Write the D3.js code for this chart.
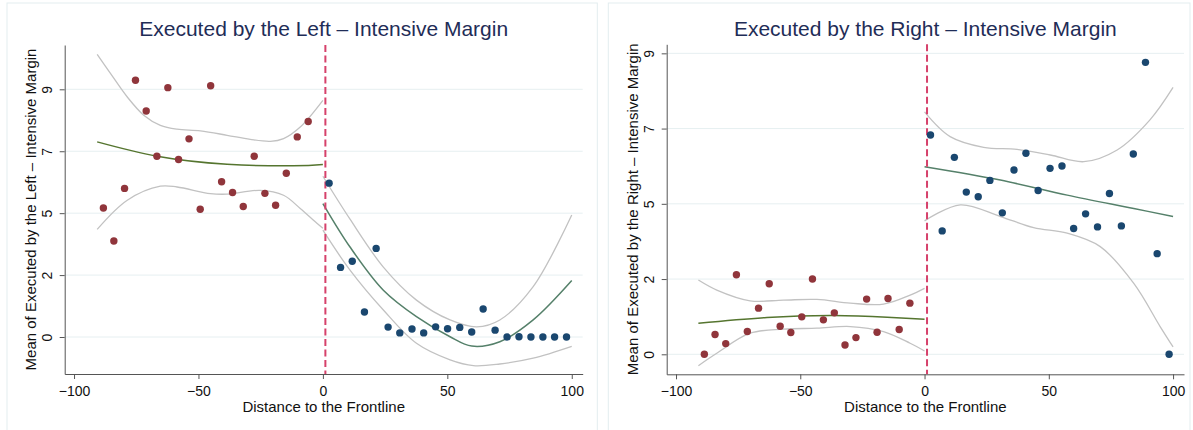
<!DOCTYPE html>
<html>
<head>
<meta charset="utf-8">
<script src="https://cdn.jsdelivr.net/npm/d3@7"></script>
<style>
  body { margin: 0; background: #fff; }
  svg { display: block; font-family: "Liberation Sans", Arial, sans-serif; }
</style>
</head>
<body>
<svg id="chart" width="1193" height="430"></svg>
<script>
// ---- Executed by the Left: binned means ----
const leftBelowX = [-88.2, -84.0, -79.7, -75.3, -71.0, -66.7, -62.3, -58.0, -53.8, -49.3,
                    -45.1, -40.7, -36.3, -32.0, -27.6, -23.3, -19.0, -14.7, -10.3, -5.9];
const leftBelowY = [4.69, 3.49, 5.40, 9.33, 8.21, 6.57, 9.06, 6.45, 7.20, 4.64,
                    9.13, 5.64, 5.25, 4.74, 6.57, 5.22, 4.79, 5.95, 7.27, 7.83];
const leftAboveX = [2.5, 7.1, 11.8, 16.7, 21.4, 26.2, 30.9, 35.8, 40.5, 45.3, 50.1,
                    55.0, 59.8, 64.4, 69.2, 74.0, 78.8, 83.6, 88.4, 93.1, 97.9];
const leftAboveY = [5.59, 2.53, 2.75, 0.91, 3.22, 0.36, 0.15, 0.29, 0.15, 0.37, 0.30,
                    0.35, 0.18, 1.02, 0.25, 0.00, 0.01, 0.00, 0.00, 0.00, 0.00];

// fitted curves and confidence bands as [x, y]
const leftBelowFit = [[-90.7, 7.09], [-66.6, 6.57], [-38.5, 6.28], [-12, 6.22], [0, 6.27]];
const leftBelowHi = [[-90.7, 10.27], [-85.3, 9.57], [-78.6, 8.72], [-72.0, 8.06], [-65.3, 7.69],
                     [-58.6, 7.55], [-49.2, 7.49], [-38.5, 7.33], [-29.2, 7.18], [-21.1, 7.11],
                     [-15.8, 7.21], [-9.1, 7.63], [0, 8.60]];
const leftBelowLo = [[-90.7, 3.91], [-78.6, 4.97], [-65.3, 5.48], [-58.6, 5.45], [-45.2, 5.21],
                     [-38.5, 5.19], [-25.2, 5.33], [-15.8, 5.15], [-9.1, 4.67], [-2.4, 4.13],
                     [0, 3.95]];
const leftAboveFit = [[0, 4.85], [10.9, 3.27], [24.3, 1.70], [37.6, 0.74], [51.1, 0.01],
                      [59.8, -0.33], [71.1, -0.17], [84.5, 0.62], [100, 2.05]];
const leftAboveHi = [[0, 5.84], [10.9, 4.28], [24.3, 2.54], [37.6, 1.34], [51.1, 0.62],
                     [61.8, 0.37], [71.1, 0.62], [84.5, 1.83], [100, 4.43]];
const leftAboveLo = [[0, 3.88], [10.9, 2.43], [24.3, 0.98], [37.6, -0.23], [51.1, -0.83],
                     [60.5, -1.04], [71.1, -0.98], [84.5, -0.77], [100, -0.34]];

// ---- Executed by the Right: binned means ----
const rightBelowX = [-88.6, -84.3, -80.0, -75.7, -71.3, -66.8, -62.5, -58.1, -53.8, -49.4,
                     -45.1, -40.7, -36.3, -32.0, -27.6, -23.3, -19.1, -14.7, -10.2, -5.9];
const rightBelowY = [0.00, 0.59, 0.32, 2.38, 0.68, 1.38, 2.11, 0.84, 0.65, 1.12,
                     2.25, 1.03, 1.24, 0.28, 0.50, 1.65, 0.66, 1.67, 0.74, 1.53];
const rightAboveX = [2.4, 7.1, 12.0, 16.8, 21.6, 26.3, 31.3, 36.0, 40.8, 45.7, 50.5,
                     55.3, 60.0, 64.8, 69.6, 74.4, 79.2, 84.0, 88.9, 93.6, 98.4];
const rightAboveY = [6.56, 3.69, 5.89, 4.85, 4.71, 5.20, 4.23, 5.51, 6.01, 4.90, 5.56,
                     5.63, 3.76, 4.20, 3.81, 4.81, 3.84, 5.99, 8.73, 3.01, 0.00];

const rightBelowFit = [[-91, 0.93], [-63.4, 1.10], [-36.6, 1.16], [-15, 1.11], [0, 1.05]];
const rightBelowHi = [[-91, 2.22], [-83.6, 1.92], [-70.2, 1.60], [-56.8, 1.62], [-43.3, 1.64],
                      [-29.9, 1.53], [-16.5, 1.50], [-5.8, 1.77], [0, 1.97]];
const rightBelowLo = [[-91, -0.34], [-83.6, 0.03], [-70.2, 0.63], [-56.8, 0.75], [-43.3, 0.78],
                      [-29.9, 0.83], [-16.5, 0.68], [-5.8, 0.33], [0, 0.10]];
const rightAboveFit = [[0, 5.61], [30.5, 5.21], [57.4, 4.76], [84.2, 4.36], [100, 4.12]];
const rightAboveHi = [[0, 7.25], [10.3, 6.51], [23.8, 6.19], [37.2, 6.13], [50.6, 5.96],
                      [64.1, 5.76], [77.5, 6.11], [90.7, 7.01], [100, 7.98]];
const rightAboveLo = [[0, 3.99], [14.4, 4.47], [30.5, 4.12], [43.9, 3.79], [57.4, 3.62],
                      [70.7, 3.22], [84.2, 2.12], [94.8, 0.83], [100, 0.22]];

// axis ticks: labels are rounded values of 0, 2.25, 4.5, 6.75, 9
const xTicks = [-100, -50, 0, 100, 50];
const yTicks = [0, 2.25, 4.5, 6.75, 9];
const cutoff = 1;

const svg = d3.select("#chart");

function drawPanel(p) {
  const g = svg.append("g");
  g.append("rect")
    .attr("x", p.frame[0]).attr("y", 3)
    .attr("width", p.frame[1] - p.frame[0]).attr("height", 450)
    .attr("fill", "none").attr("stroke", "#e3edef").attr("stroke-width", 1);

  const x = d3.scaleLinear().domain([-103.75, 104.4]).range(p.xr);
  const y = d3.scaleLinear().domain(p.yd).range([p.yr[1], p.yr[0]]);

  // grid
  g.append("g").selectAll("line").data(yTicks).join("line")
    .attr("x1", p.xr[0]).attr("x2", p.xr[1])
    .attr("y1", d => y(d)).attr("y2", d => y(d))
    .attr("stroke", "#e6eff1").attr("stroke-width", 1);

  const band = d3.line().x(d => x(d[0])).y(d => y(d[1])).curve(d3.curveCatmullRom.alpha(0.5));
  const fit = d3.line().x(d => x(d[0])).y(d => y(d[1])).curve(d3.curveNatural);

  [p.belowHi, p.belowLo, p.aboveHi, p.aboveLo].forEach(c => {
    g.append("path").attr("d", band(c)).attr("fill", "none")
      .attr("stroke", "#c2c2c2").attr("stroke-width", 1.3);
  });
  g.append("path").attr("d", fit(p.belowFit)).attr("fill", "none")
    .attr("stroke", "#55752f").attr("stroke-width", 1.5);
  g.append("path").attr("d", band(p.aboveFit)).attr("fill", "none")
    .attr("stroke", "#55806a").attr("stroke-width", 1.5);

  // cutoff line
  g.append("line")
    .attr("x1", x(cutoff)).attr("x2", x(cutoff))
    .attr("y1", p.yr[0]).attr("y2", p.yr[1])
    .attr("stroke", "#d6416b").attr("stroke-width", 2)
    .attr("stroke-dasharray", "7,3.5");

  g.append("g").selectAll("circle").data(p.bx.map((v, i) => [v, p.by[i]])).join("circle")
    .attr("cx", d => x(d[0])).attr("cy", d => y(d[1])).attr("r", 3.7)
    .attr("fill", "#90353b");
  g.append("g").selectAll("circle").data(p.ax.map((v, i) => [v, p.ay[i]])).join("circle")
    .attr("cx", d => x(d[0])).attr("cy", d => y(d[1])).attr("r", 3.7)
    .attr("fill", "#1a476f");

  // axes
  const xa = g.append("g").attr("transform", `translate(0,${p.yr[1]})`)
    .call(d3.axisBottom(x).tickValues(xTicks).tickSize(5).tickSizeOuter(0));
  xa.selectAll("text").attr("y", 12).attr("dy", "0.71em")
    .style("font-size", "14px").attr("fill", "#111");
  const ya = g.append("g").attr("transform", `translate(${p.xr[0]},0)`)
    .call(d3.axisLeft(y).tickValues(yTicks).tickFormat(d3.format(".0f")).tickSize(5).tickSizeOuter(0));
  ya.selectAll("text")
    .attr("transform", "rotate(-90)").attr("x", 0).attr("y", -13).attr("dy", 0)
    .attr("text-anchor", "middle").style("font-size", "14px").attr("fill", "#111");
  [xa, ya].forEach(a => {
    a.select(".domain").attr("stroke", "#555");
    a.selectAll(".tick line").attr("stroke", "#555");
  });

  const cx = (p.xr[0] + p.xr[1]) / 2;
  const cy = (p.yr[0] + p.yr[1]) / 2;
  g.append("text").attr("x", cx).attr("y", 36).attr("text-anchor", "middle")
    .style("font-size", "21px").attr("fill", "#1f2d57").text(p.title);
  g.append("text").attr("x", cx).attr("y", 411.5).attr("text-anchor", "middle")
    .style("font-size", "15px").attr("fill", "#111").text("Distance to the Frontline");
  g.append("text").attr("transform", `translate(${p.xr[0] - 28.7},${cy}) rotate(-90)`)
    .attr("text-anchor", "middle").style("font-size", "15px").attr("fill", "#111")
    .text(p.ytitle);
}

drawPanel({
  frame: [7, 597.3], xr: [64.7, 582.7], yr: [45, 374], yd: [-1.344, 10.61],
  title: "Executed by the Left – Intensive Margin",
  ytitle: "Mean of Executed by the Left – Intensive Margin",
  bx: leftBelowX, by: leftBelowY, ax: leftAboveX, ay: leftAboveY,
  belowFit: leftBelowFit, belowHi: leftBelowHi, belowLo: leftBelowLo,
  aboveFit: leftAboveFit, aboveHi: leftAboveHi, aboveLo: leftAboveLo
});
drawPanel({
  frame: [608.3, 1190], xr: [666.7, 1184], yr: [44.3, 374.3], yd: [-0.598, 9.27],
  title: "Executed by the Right – Intensive Margin",
  ytitle: "Mean of Executed by the Right – Intensive Margin",
  bx: rightBelowX, by: rightBelowY, ax: rightAboveX, ay: rightAboveY,
  belowFit: rightBelowFit, belowHi: rightBelowHi, belowLo: rightBelowLo,
  aboveFit: rightAboveFit, aboveHi: rightAboveHi, aboveLo: rightAboveLo
});
</script>
</body>
</html>
